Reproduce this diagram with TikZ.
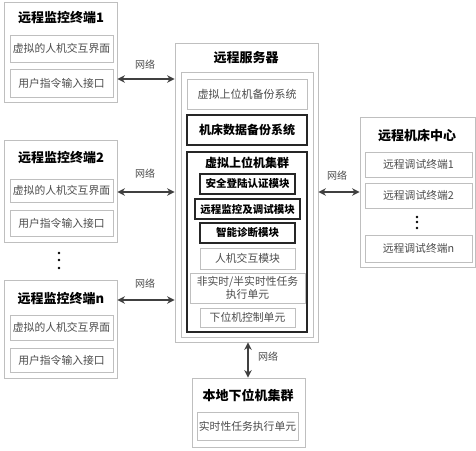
\documentclass[tikz,border=0pt]{standalone}
\usepackage{fontspec}
\setmainfont{Noto Sans CJK SC}
\usetikzlibrary{arrows.meta,shadows}
\tikzset{
  base/.style={rectangle, inner sep=0pt, fill=white, align=center},
  lite/.style={base, draw=black!25, line width=0.8pt, text=black!70, font=\fontsize{10.8}{12.5}\selectfont,
    drop shadow={shadow xshift=1.2pt, shadow yshift=-1.2pt, fill=black!15, opacity=1}},
  outer/.style={lite},
  thick/.style={base, draw=black!85, line width=1.8pt, text=black, font=\bfseries\fontsize{10.5}{12}\selectfont},
  ttl/.style={inner sep=0pt, text=black, font=\bfseries\fontsize{13}{15}\selectfont},
  net/.style={inner sep=0pt, text=black!70, font=\fontsize{10}{11}\selectfont},
  arr/.style={{Stealth[length=7.5pt,width=7.5pt]}-{Stealth[length=7.5pt,width=7.5pt]}, line width=1.5pt, draw=black!75},
  dot/.style={circle, fill=black, inner sep=0pt, minimum size=2.6pt}
}
\newcommand\bx[7]{\node[#2, minimum width={#5-#3}, minimum height={#6-#4}] (#1) at ({(#3+#5)/2},{(#4+#6)/2}) {#7};}
\begin{document}
\begin{tikzpicture}[x=1pt,y=-1pt]
\useasboundingbox (0,0) rectangle (476,450);
% left terminals
\bx{T1}{outer}{4}{2}{117}{102}{}
\node[ttl] (T1t) at (61,18) {远程监控终端1};
\bx{T1a}{lite}{10}{35}{113}{62}{虚拟的人机交互界面}
\bx{T1b}{lite}{10}{69}{113}{97}{用户指令输入接口}
\bx{T2}{outer}{4}{140}{117}{242}{}
\node[ttl] (T2t) at (61,158) {远程监控终端2};
\bx{T2a}{lite}{10}{179}{113}{202}{虚拟的人机交互界面}
\bx{T2b}{lite}{10}{210}{113}{236}{用户指令输入接口}
\node[dot] (d1) at (59,253) {};
\node[dot] (d2) at (59,260) {};
\node[dot] (d3) at (59,268) {};
\bx{Tn}{outer}{4}{280}{117}{378}{}
\node[ttl] (Tnt) at (61,299) {远程监控终端n};
\bx{Tna}{lite}{10}{315}{113}{340}{虚拟的人机交互界面}
\bx{Tnb}{lite}{10}{348}{113}{372}{用户指令输入接口}
% server
\bx{S}{outer}{175}{43}{318}{342}{}
\node[ttl] (St) at (246,58) {远程服务器};
\bx{Si}{outer}{181}{72}{313}{337}{}
\bx{B1}{lite}{187}{79}{307}{109}{\fontsize{11}{13}\selectfont 虚拟上位机备份系统}
\bx{B2}{thick}{187}{115}{307}{145}{\fontsize{12}{14}\selectfont 机床数据备份系统}
\bx{C}{thick}{187}{152}{307}{332}{}
\node[ttl, font=\bfseries\fontsize{12}{14}\selectfont] (Ct) at (247,163) {虚拟上位机集群};
\bx{M1}{thick}{200}{174}{295}{194}{安全登陆认证模块}
\bx{M2}{thick}{195}{199}{300}{219}{远程监控及调试模块}
\bx{M3}{thick}{200}{223}{295}{243}{智能诊断模块}
\bx{M4}{lite}{200}{248}{295}{269}{人机交互模块}
\bx{M5}{lite}{190}{273}{305}{303}{非实时/半实时性任务\\执行单元}
\bx{M6}{lite}{200}{308}{295}{327}{下位机控制单元}
% right center
\bx{R}{outer}{360}{117}{475}{267}{}
\node[ttl] (Rt) at (417,135) {远程机床中心};
\bx{R1}{lite}{365}{152}{472}{177}{远程调试终端1}
\bx{R2}{lite}{365}{183}{472}{208}{远程调试终端2}
\node[dot] (e1) at (417,217) {};
\node[dot] (e2) at (417,222) {};
\node[dot] (e3) at (417,228) {};
\bx{Rn}{lite}{365}{235}{472}{262}{远程调试终端n}
% bottom
\bx{L}{outer}{192}{378}{305}{447}{}
\node[ttl] (Lt) at (248,395) {本地下位机集群};
\bx{L1}{lite}{197}{412}{298}{440}{实时性任务执行单元}
% connectors
\draw[arr] (T1.east |- 0,79) -- (S.west |- 0,79);
\node[net] (n1) at (145,65) {网络};
\draw[arr] (T2.east |- 0,192) -- (S.west |- 0,192);
\node[net] (n2) at (145,174) {网络};
\draw[arr] (Tn.east |- 0,300) -- (S.west |- 0,300);
\node[net] (n3) at (145,284) {网络};
\draw[arr] (S.east |- 0,192) -- (R.west |- 0,192);
\node[net] (n4) at (337,176) {网络};
\draw[arr] (S.south -| 248,0) -- (L.north -| 248,0);
\node[net] (n5) at (268,357) {网络};
\end{tikzpicture}
\end{document}
